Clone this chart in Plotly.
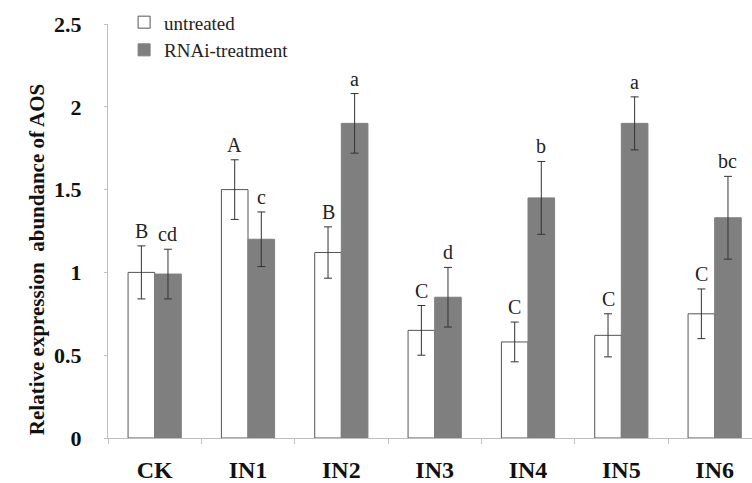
import plotly.graph_objects as go

categories = ["CK", "IN1", "IN2", "IN3", "IN4", "IN5", "IN6"]
untreated = [1.00, 1.50, 1.12, 0.65, 0.58, 0.62, 0.75]
untreated_err = [0.16, 0.18, 0.155, 0.15, 0.12, 0.13, 0.15]
rnai = [0.99, 1.20, 1.90, 0.85, 1.45, 1.90, 1.33]
rnai_err = [0.15, 0.165, 0.18, 0.18, 0.22, 0.16, 0.25]
untreated_letters = ["B", "A", "B", "C", "C", "C", "C"]
rnai_letters = ["cd", "c", "a", "d", "b", "a", "bc"]

serif = "Liberation Serif"

fig = go.Figure()
fig.add_trace(go.Bar(
    name="untreated", x=categories, y=untreated,
    marker=dict(color="white", line=dict(color="#555555", width=1)),
    error_y=dict(type="data", array=untreated_err, color="#333333", thickness=1, width=4),
))
fig.add_trace(go.Bar(
    name="RNAi-treatment", x=categories, y=rnai,
    marker=dict(color="#7f7f7f", line=dict(color="#7f7f7f", width=1)),
    error_y=dict(type="data", array=rnai_err, color="#333333", thickness=1, width=4),
))

# significance letters above each error bar
annotations = []
for i, cat in enumerate(categories):
    for vals, errs, letters, shift in (
        (untreated, untreated_err, untreated_letters, -13.3),
        (rnai, rnai_err, rnai_letters, 13.3),
    ):
        annotations.append(dict(
            x=cat, y=vals[i] + errs[i], text=letters[i], showarrow=False,
            xshift=shift, yanchor="bottom", yshift=2,
            font=dict(family=serif, size=20, color="#222222"),
        ))

# y-axis title
annotations.append(dict(
    xref="paper", yref="paper", x=-0.132, y=0.432,
    text="Relative expression  abundance of AOS", textangle=-90, showarrow=False,
    font=dict(family=serif, size=21, color="#111111", weight="bold"),
))

fig.update_layout(
    width=752, height=483,
    margin=dict(l=108, r=0, t=24, b=45),
    paper_bgcolor="white", plot_bgcolor="white",
    font=dict(family=serif, color="#222222"),
    barmode="group", bargap=0.43, bargroupgap=0,
    showlegend=True,
    legend=dict(
        x=0.025, y=1.05, xanchor="left", yanchor="top",
        font=dict(family=serif, size=19, color="#222222"),
        bgcolor="rgba(0,0,0,0)", itemwidth=30,
    ),
    annotations=annotations,
    xaxis=dict(
        range=[-0.5, 6.4], showline=True, linecolor="#bfbfbf", linewidth=1,
        ticks="outside", tickson="boundaries", ticklen=5, tickcolor="#bfbfbf",
        tickfont=dict(family=serif, size=24, color="#111111", weight="bold"),
        ticklabelstandoff=10, showgrid=False,
    ),
    yaxis=dict(
        range=[0, 2.5], tickvals=[0, 0.5, 1, 1.5, 2, 2.5],
        ticktext=["0", "0.5", "1", "1.5", "2", "2.5"],
        showline=True, linecolor="#bfbfbf", linewidth=1,
        ticks="outside", ticklen=3, tickcolor="#bfbfbf", showgrid=False, zeroline=False,
        tickfont=dict(family=serif, size=22, color="#111111", weight="bold"),
        ticklabelstandoff=18,
    ),
)

fig.write_html("out.html")
